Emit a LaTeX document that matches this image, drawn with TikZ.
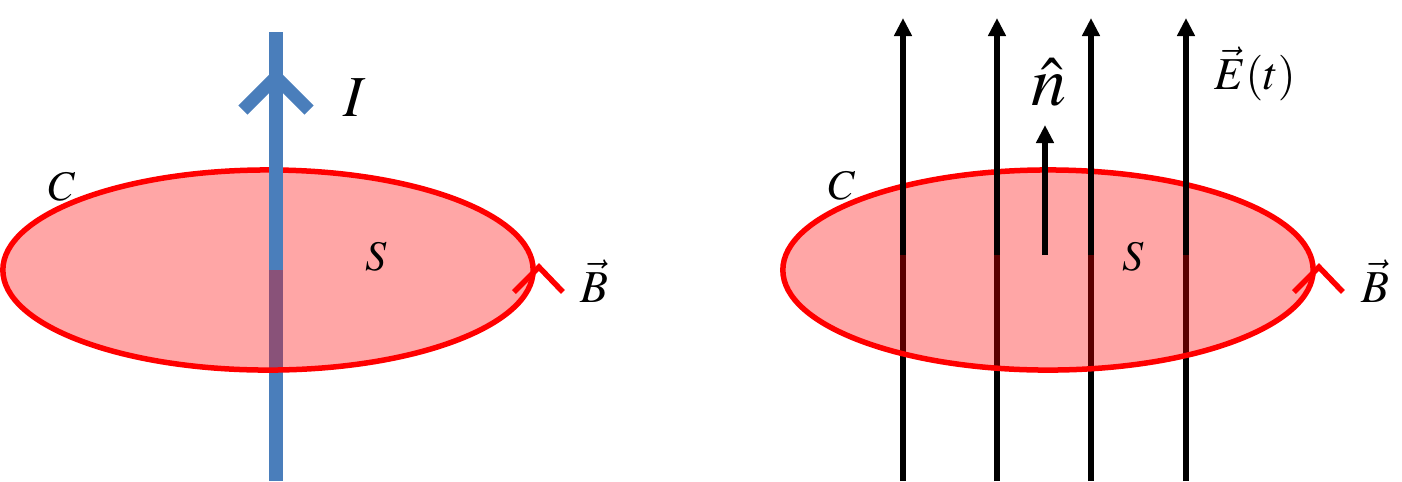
\documentclass[tikz,border=0pt]{standalone}
\usepackage{mathptmx}
\usepackage{fontspec}
\setmainfont{Liberation Serif}
\usetikzlibrary{arrows.meta,shapes.geometric}
\definecolor{wireblue}{RGB}{74,126,187}
\begin{document}
\begin{tikzpicture}[x=0.01cm,y=-0.01cm,
    loop/.style={ellipse, draw=red, line width=0.055cm, fill=red, fill opacity=0.35,
      minimum width=5.3cm, minimum height=2cm, inner sep=0pt},
    wire/.style={wireblue, line width=0.13cm},
    fieldline/.style={black, line width=0.06cm},
    field/.style={fieldline, -{Triangle[length=0.18cm,width=0.17cm]}},
    sense/.style={red, line width=0.055cm},
    lbl/.style={inner sep=0pt, font=\fontsize{12}{14}\selectfont}]
  \useasboundingbox (0,0) rectangle (1402,481);

  % left: current through the loop
  \coordinate (Ib) at (276,481);
  \coordinate (Im) at (268+8,270);
  \coordinate (It) at (276,32);
  \draw[wire] (Ib) -- (Im);
  \node[loop] (loopL) at (268,270) {};
  \draw[wire] (Im) -- (It);
  \coordinate (Iv) at (276,77);
  \draw[wire, miter limit=4] ([shift={(-33,33)}]Iv) -- (Iv) -- ([shift={(33,33)}]Iv);
  \draw[sense] ([shift={(-22,22)}]loopL.east) -- ([shift={(3,-3)}]loopL.east) -- ([shift={(27,22)}]loopL.east);
  \node[lbl, font=\fontsize{16.5}{20}\selectfont] (lblI) at (355,98) {$I$};
  \node[lbl] (lblCL) at (62,187) {$C$};
  \node[lbl] (lblSL) at (376,257) {$S$};
  \node[lbl, font=\fontsize{13}{15}\selectfont] (lblBL) at (594,281) {$\vec{B}$};

  % right: field lines through the surface
  \foreach \x [count=\i] in {903,997,1091,1186} {
    \coordinate (Eb\i) at (\x,481);
    \coordinate (Em\i) at (\x,255);
    \coordinate (Et\i) at (\x,18);
    \draw[fieldline] (Eb\i) -- (Em\i);
  }
  \node[loop] (loopR) at (1048,270) {};
  \foreach \i in {1,...,4}
    \draw[field] (Em\i) -- (Et\i);
  \coordinate (nb) at (1045,255);
  \coordinate (nt) at (1045,125);
  \draw[field] (nb) -- (nt);
  \draw[sense] ([shift={(-22,22)}]loopR.east) -- ([shift={(3,-3)}]loopR.east) -- ([shift={(27,22)}]loopR.east);
  \node[lbl, font=\fontsize{20}{24}\selectfont] (lbln) at (1049,82) {$\hat{n}$};
  \node[lbl, font=\fontsize{13}{15}\selectfont] (lblE) at (1255,74) {$\vec{E}(t)$};
  \node[lbl] (lblCR) at (842,186) {$C$};
  \node[lbl] (lblSR) at (1133,257) {$S$};
  \node[lbl, font=\fontsize{13}{15}\selectfont] (lblBR) at (1375,281) {$\vec{B}$};
\end{tikzpicture}
\end{document}
